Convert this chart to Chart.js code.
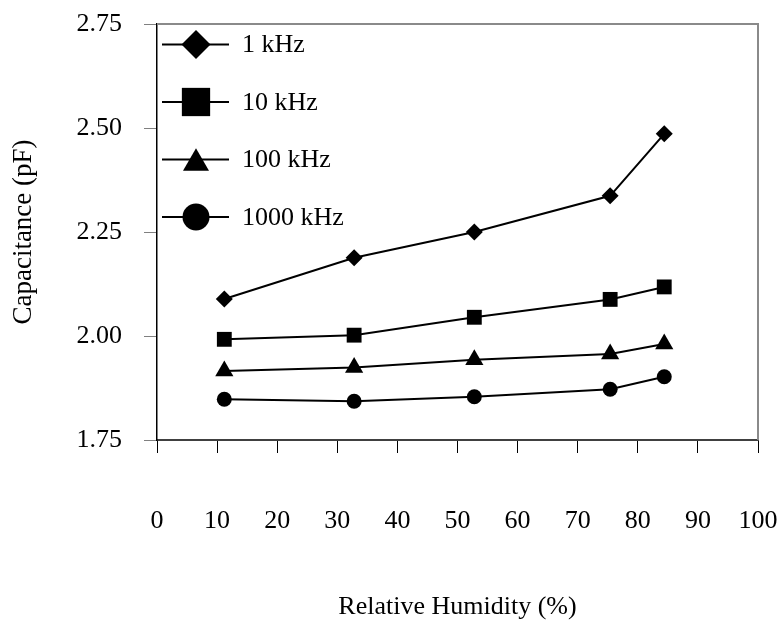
<!DOCTYPE html>
<html>
<head>
<meta charset="utf-8">
<script src="https://cdn.jsdelivr.net/npm/chart.js@4"></script>
<style>
  html, body { margin: 0; padding: 0; background: #ffffff; }
  #wrap { width: 779px; height: 630px; }
</style>
</head>
<body>
<div id="wrap"><canvas id="c" width="779" height="630"></canvas></div>
<script>
// Relative humidity of each measurement (%)
const humidity = [11.2, 32.8, 52.8, 75.4, 84.4];

// Capacitance (pF) at each test frequency
const cap1kHz    = [2.089, 2.188, 2.250, 2.337, 2.486];
const cap10kHz   = [1.992, 2.002, 2.045, 2.088, 2.118];
const cap100kHz  = [1.916, 1.924, 1.943, 1.957, 1.981];
const cap1000kHz = [1.848, 1.843, 1.854, 1.872, 1.902];

const seriesNames = ['1 kHz', '10 kHz', '100 kHz', '1000 kHz'];
const seriesValues = [cap1kHz, cap10kHz, cap100kHz, cap1000kHz];
const markerStyles = ['rectRot', 'rect', 'triangle', 'circle'];
const markerRadius = [8.5, 10.5, 10.5, 7.5];
const legendRadius = [14.5, 20, 15, 13.5];

// Axis ranges and tick steps
const xMin = 0, xMax = 100, xStep = 10;
const yMin = 1.75, yMax = 2.75, yStep = 0.25;

const FONT = "'Liberation Serif', 'Times New Roman', serif";

const datasets = seriesNames.map((name, i) => ({
  label: name,
  data: humidity.map((h, j) => ({ x: h, y: seriesValues[i][j] })),
  borderColor: '#000',
  backgroundColor: '#000',
  borderWidth: 2,
  pointStyle: markerStyles[i],
  pointRadius: markerRadius[i],
  pointHoverRadius: markerRadius[i],
  pointBackgroundColor: '#000',
  pointBorderWidth: 0,
  tension: 0,
  fill: false
}));

// White page background
const whiteBg = {
  id: 'whiteBg',
  beforeDraw(chart) {
    const ctx = chart.ctx;
    ctx.save();
    ctx.fillStyle = '#fff';
    ctx.fillRect(0, 0, chart.width, chart.height);
    ctx.restore();
  }
};

// Grey frame on the top and right edges of the plot area
const plotFrame = {
  id: 'plotFrame',
  beforeDatasetsDraw(chart) {
    const { ctx, chartArea: a } = chart;
    ctx.save();
    ctx.strokeStyle = '#8a8a8a';
    ctx.lineWidth = 2;
    ctx.beginPath();
    ctx.moveTo(a.left, a.top);
    ctx.lineTo(a.right, a.top);
    ctx.lineTo(a.right, a.bottom);
    ctx.stroke();
    ctx.restore();
  }
};

// Legend drawn inside the plot, each entry as a line segment with its marker
const insetLegend = {
  id: 'insetLegend',
  afterDatasetsDraw(chart) {
    const { ctx, chartArea: a } = chart;
    chart.data.datasets.forEach((ds, i) => {
      const y = a.top + 20.5 + i * 57.5;
      const xm = a.left + 39;
      ctx.save();
      ctx.strokeStyle = '#000';
      ctx.lineWidth = 2;
      ctx.beginPath();
      ctx.moveTo(a.left + 5, y);
      ctx.lineTo(a.left + 72, y);
      ctx.stroke();
      ctx.fillStyle = '#000';
      const my = ds.pointStyle === 'triangle' ? y + legendRadius[i] / 4 : y;
      Chart.helpers.drawPoint(ctx, {
        pointStyle: ds.pointStyle,
        radius: legendRadius[i],
        borderWidth: 0,
        rotation: 0
      }, xm, my);
      ctx.font = '26px ' + FONT;
      ctx.textAlign = 'left';
      ctx.textBaseline = 'middle';
      ctx.fillText(ds.label, a.left + 85, y + 1);
      ctx.restore();
    });
  }
};

new Chart(document.getElementById('c'), {
  type: 'line',
  data: { datasets },
  options: {
    responsive: false,
    animation: false,
    devicePixelRatio: 1,
    layout: { padding: { top: 24, right: 21, bottom: 0, left: 0 } },
    plugins: {
      legend: { display: false },
      tooltip: { enabled: false }
    },
    scales: {
      x: {
        type: 'linear',
        position: 'bottom',
        min: xMin,
        max: xMax,
        afterFit(scale) {
          scale.height = 190;
          scale.paddingLeft = 0;
          scale.paddingRight = 0;
        },
        ticks: {
          stepSize: xStep,
          color: '#000',
          font: { family: FONT, size: 26 },
          padding: 53,
          maxRotation: 0
        },
        grid: {
          drawOnChartArea: false,
          drawTicks: true,
          tickLength: 13,
          tickColor: '#000',
          color: '#000'
        },
        border: { display: true, color: '#404040', width: 2 },
        title: {
          display: true,
          text: 'Relative Humidity (%)',
          color: '#000',
          font: { family: FONT, size: 26 },
          padding: { top: 0, bottom: 7 }
        }
      },
      y: {
        type: 'linear',
        position: 'left',
        min: yMin,
        max: yMax,
        afterFit(scale) {
          scale.width = 157;
          scale.paddingTop = 0;
          scale.paddingBottom = 0;
        },
        ticks: {
          stepSize: yStep,
          color: '#000',
          font: { family: FONT, size: 26 },
          padding: 22,
          callback: v => Number(v).toFixed(2)
        },
        grid: {
          drawOnChartArea: false,
          drawTicks: true,
          tickLength: 13,
          tickColor: '#808080',
          color: '#808080'
        },
        border: { display: true, color: '#000', width: 1.5 },
        title: {
          display: true,
          text: 'Capacitance (pF)',
          color: '#000',
          font: { family: FONT, size: 27 },
          padding: { top: 8, bottom: 0 }
        }
      }
    }
  },
  plugins: [whiteBg, plotFrame, insetLegend]
});
</script>
</body>
</html>
